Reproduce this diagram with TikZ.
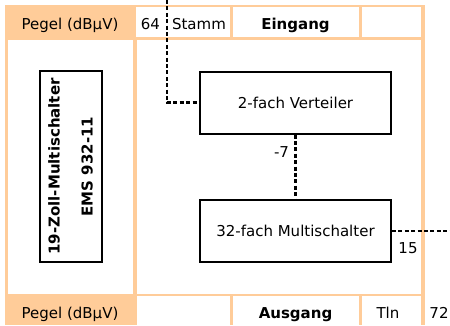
\documentclass[tikz,border=0pt]{standalone}
\usepackage{fontspec}
\setmainfont{DejaVu Sans}
\definecolor{tabfarbe}{HTML}{FFCC99}
\tikzset{
  txt/.style={font=\fontsize{15}{18}\selectfont, anchor=base, inner sep=0pt},
  fett/.style={font=\fontsize{15}{18}\selectfont\bfseries, anchor=base, inner sep=0pt},
  geraet/.style={draw, line width=2pt, font=\fontsize{15}{18}\selectfont,
    minimum width=191pt, minimum height=62pt, inner sep=0pt},
  kabel/.style={line width=2.4pt, dash pattern=on 4pt off 2.4pt}
}
\begin{document}
\begin{tikzpicture}[x=1pt, y=-1pt]
        \useasboundingbox (0, 0) rectangle (450, 325);
        % Tabelle
        \fill[tabfarbe] (5, 5) rectangle (425, 325);
        \fill[white] (136, 7) rectangle (230, 37);
        \fill[white] (233, 7) rectangle (359, 37);
        \fill[white] (362, 7) rectangle (421, 37);
        \fill[white] (8, 40) rectangle (133, 294);
        \fill[white] (137, 40) rectangle (421, 294);
        \fill[white] (137, 296) rectangle (230, 325);
        \fill[white] (233, 296) rectangle (359, 325);
        \fill[white] (362, 296) rectangle (421, 325);
        % Kopfzeile
        \node[txt] (pegelein) at (70, 29) {Pegel (dBµV)};
        \node[txt] (wert64) at (150.5, 29) {64};
        \node[txt] (stamm) at (199, 29) {Stamm};
        \node[fett] (eingang) at (295.5, 29) {Eingang};
        % Fusszeile
        \node[txt] (pegelaus) at (70, 318) {Pegel (dBµV)};
        \node[fett] (ausgang) at (295.5, 318) {Ausgang};
        \node[txt] (tln) at (388, 318) {Tln};
        \node[txt] (wert72) at (439, 318) {72};
        % Geraete
        \node[geraet, rotate=90, align=center, font=\fontsize{15}{18}\selectfont\bfseries]
              (ems) at (70.5, 166.5) {19-Zoll-Multischalter\\[15pt]EMS 932-11};
        \node[geraet] (verteiler) at (295.5, 102.5) {2-fach Verteiler};
        \node[geraet] (multi) at (295.5, 231) {32-fach Multischalter};
        % Leitungen
        \coordinate (stammein) at (167, 0);
        \coordinate (tlnaus) at (450, 231);
        \draw[kabel] (stammein) |- (verteiler.west);
        \draw[kabel] (verteiler.south) -- (multi.north);
        \draw[kabel] (multi.east) -- (tlnaus);
        \node[txt] (daempf) at (281.5, 157) {-7};
        \node[txt] (wert15) at (408, 253) {15};
\end{tikzpicture}
\end{document}
